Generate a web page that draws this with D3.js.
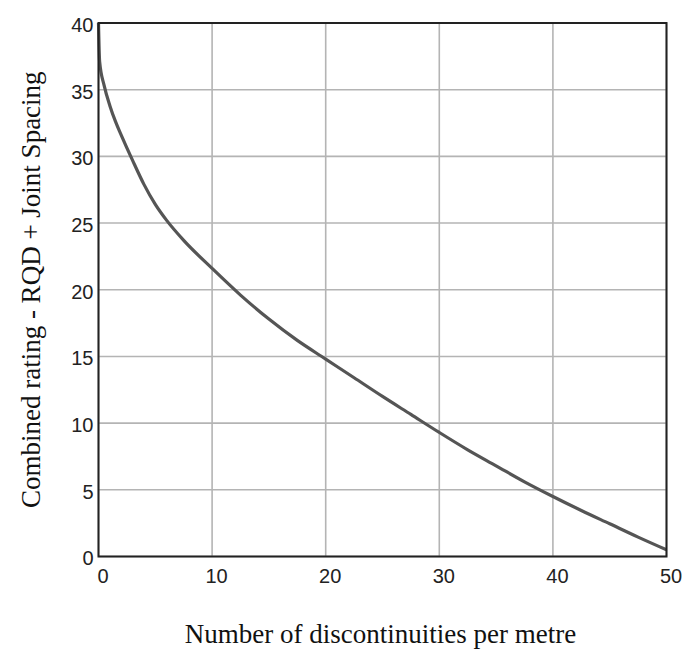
<!DOCTYPE html>
<html>
<head>
<meta charset="utf-8">
<script src="https://cdn.jsdelivr.net/npm/d3@7"></script>
<style>
  html, body { margin: 0; padding: 0; background: #fff; }
  svg { display: block; }
</style>
</head>
<body>
<svg id="chart" width="683" height="649"></svg>
<script>
// Discontinuity frequency (per metre) and the combined RQD + joint spacing rating
const spacing = [0, 0.1, 0.5, 1, 1.5, 2, 3, 4, 5, 6, 7.5, 10, 12.5, 15, 17.5, 20, 22.5, 25, 27.5, 30, 32.5, 35, 37.5, 40, 42.5, 45, 47.5, 50];
const rating  = [40, 37.1, 35.3, 33.8, 32.6, 31.6, 29.7, 27.9, 26.4, 25.2, 23.7, 21.6, 19.6, 17.8, 16.2, 14.8, 13.4, 12.0, 10.65, 9.3, 8.0, 6.8, 5.6, 4.5, 3.45, 2.45, 1.45, 0.5];

const xTicks = [0, 10, 20, 30, 40, 50];
const yTicks = [0, 5, 10, 15, 20, 25, 30, 35, 40];

const xTitle = "Number of discontinuities per metre";
const yTitle = "Combined rating - RQD + Joint Spacing";

const svg = d3.select("#chart");
const m = { left: 98.5, right: 666.5, top: 23, bottom: 556.5 };

const x = d3.scaleLinear().domain([0, 50]).range([m.left, m.right]);
const y = d3.scaleLinear().domain([0, 40]).range([m.bottom, m.top]);

// grid
const grid = svg.append("g").attr("stroke", "#b4b4b4").attr("stroke-width", 1.6);
grid.selectAll("line.v").data(xTicks).join("line")
  .attr("x1", d => x(d)).attr("x2", d => x(d))
  .attr("y1", m.top).attr("y2", m.bottom);
grid.selectAll("line.h").data(yTicks).join("line")
  .attr("x1", m.left).attr("x2", m.right)
  .attr("y1", d => y(d)).attr("y2", d => y(d));

// curve
const line = d3.line().x((d, i) => x(spacing[i])).y(d => y(d)).curve(d3.curveMonotoneX);
svg.append("path")
  .datum(rating)
  .attr("fill", "none")
  .attr("stroke", "#555")
  .attr("stroke-width", 3.2)
  .attr("d", line);

// frame
svg.append("rect")
  .attr("x", m.left).attr("y", m.top)
  .attr("width", m.right - m.left).attr("height", m.bottom - m.top)
  .attr("fill", "none").attr("stroke", "#222").attr("stroke-width", 2);

// axes (labels only)
const xAxis = d3.axisBottom(x).tickValues(xTicks).tickSize(0).tickPadding(12);
const gx = svg.append("g").attr("transform", `translate(4,${m.bottom})`).call(xAxis);
gx.select(".domain").remove();
gx.selectAll("text")
  .attr("font-family", "'Liberation Sans', Arial, sans-serif")
  .attr("font-size", 20).attr("fill", "#222");

const yAxis = d3.axisLeft(y).tickValues(yTicks).tickSize(0).tickPadding(5);
const gy = svg.append("g").attr("transform", `translate(${m.left},2)`).call(yAxis);
gy.select(".domain").remove();
gy.selectAll("text")
  .attr("font-family", "'Liberation Sans', Arial, sans-serif")
  .attr("font-size", 20).attr("fill", "#222");

// titles
svg.append("text")
  .attr("x", (m.left + m.right) / 2 - 2).attr("y", 643)
  .attr("text-anchor", "middle")
  .attr("font-family", "'Liberation Serif', 'Times New Roman', serif")
  .attr("font-size", 27).attr("fill", "#111")
  .text(xTitle);

svg.append("text")
  .attr("transform", `translate(40,${(m.top + m.bottom) / 2}) rotate(-90)`)
  .attr("text-anchor", "middle")
  .attr("font-family", "'Liberation Serif', 'Times New Roman', serif")
  .attr("font-size", 27).attr("fill", "#111")
  .text(yTitle);
</script>
</body>
</html>
